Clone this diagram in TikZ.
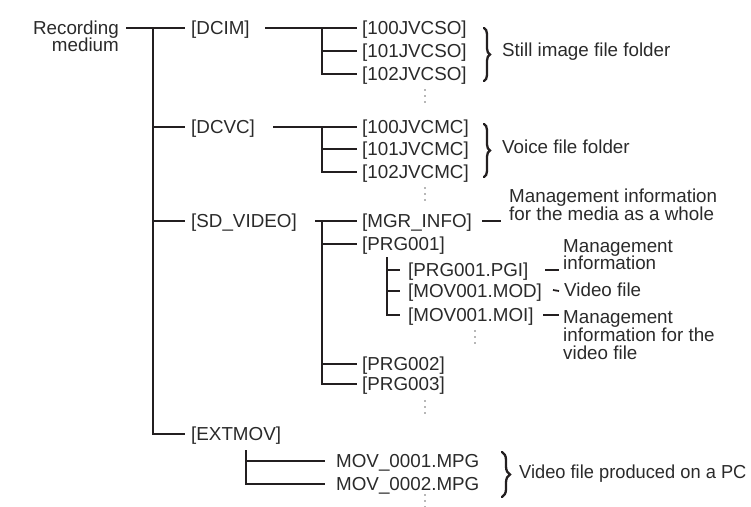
\documentclass[tikz,border=0pt]{standalone}
\usepackage{fontspec}
\usepackage{graphicx}
\setmainfont{Liberation Sans}
\usetikzlibrary{decorations.pathreplacing}
\definecolor{ink}{RGB}{35,31,32}
\definecolor{txt}{RGB}{42,42,42}
\definecolor{dotc}{RGB}{110,110,110}
\begin{document}
\begin{tikzpicture}[x=1pt,y=-1pt,
  lbl/.style={anchor=west,inner sep=0pt,text height=13.4pt,text depth=0pt,
    font=\fontsize{18.8}{18}\selectfont,text=txt},
  rlbl/.style={lbl,anchor=east},
  ln/.style={draw=ink,line width=1.8pt},
  br/.style={draw=ink,line width=2.3pt,line cap=round,decorate,decoration={brace,amplitude=#1}},
  br/.default=6pt]
\useasboundingbox (0,0) rectangle (751,506);

% ---- labels ----
\node[rlbl] (rec1) at (119,28) {Recording};
\node[rlbl] (rec2) at (119,45) {medium};

\node[lbl] (dcim) at (191,28) {[DCIM]};
\node[lbl] (dcvc) at (191,127) {[DCVC]};
\node[lbl] (sdv)  at (191,221) {[SD\_VIDEO]};
\node[lbl] (ext)  at (191,434) {[EXTMOV]};

\node[lbl] (so1) at (362,28) {[100JVCSO]};
\node[lbl] (so2) at (362,51) {[101JVCSO]};
\node[lbl] (so3) at (362,74) {[102JVCSO]};
\node[lbl] (sol) at (502,50) {Still image file folder};

\node[lbl] (mc1) at (362,127) {[100JVCMC]};
\node[lbl] (mc2) at (362,149) {[101JVCMC]};
\node[lbl] (mc3) at (362,172) {[102JVCMC]};
\node[lbl] (mcl) at (502,147) {Voice file folder};

\node[lbl] (mgr)  at (362,221) {[MGR\_INFO]};
\node[lbl] (prg1) at (362,244) {[PRG001]};
\node[lbl] (prg2) at (362,364) {[PRG002]};
\node[lbl] (prg3) at (362,384) {[PRG003]};
\node[lbl] (mgrA) at (509,196) {Management information};
\node[lbl] (mgrB) at (509,214) {for the media as a whole};

\node[lbl] (pgi) at (408,270) {[PRG001.PGI]};
\node[lbl] (mod) at (408,291) {[MOV001.MOD]};
\node[lbl] (moi) at (408,315) {[MOV001.MOI]};
\node[lbl] (pgiA) at (563,246) {Management};
\node[lbl] (pgiB) at (563,263) {information};
\node[lbl] (modA) at (564,290) {Video file};
\node[lbl] (moiA) at (563,317) {Management};
\node[lbl] (moiB) at (563,335) {information for the};
\node[lbl] (moiC) at (563,353) {video file};

\node[lbl] (mpg1) at (336,461) {MOV\_0001.MPG};
\node[lbl] (mpg2) at (336,484) {MOV\_0002.MPG};
\node[lbl] (mpgl) at (519,472) {\scalebox{0.972}[1]{Video file produced on a PC}};

% ---- main tree ----
\coordinate (mtop) at (153,28);
\draw[ln] ([xshift=7pt]rec1.east) -- ([xshift=-6pt]dcim.west);
\draw[ln] (mtop) |- ([xshift=-6pt]ext.west);
\draw[ln] (mtop |- dcvc.west) -- ([xshift=-6pt]dcvc.west);
\draw[ln] (mtop |- sdv.west) -- ([xshift=-6pt]sdv.west);

% ---- DCIM ----
\coordinate (v1) at (322,28);
\draw[ln] (265,28) -- ([xshift=-5pt]so1.west);
\draw[ln] (v1) |- ([xshift=-5pt]so3.west);
\draw[ln] (v1 |- so2.west) -- ([xshift=-5pt]so2.west);
\draw[br=6pt] (484,28) -- (484,81);

% ---- DCVC ----
\coordinate (v2) at (322,127);
\draw[ln] (273,127) -- ([xshift=-5pt]mc1.west);
\draw[ln] (v2) |- ([xshift=-5pt]mc3.west);
\draw[ln] (v2 |- mc2.west) -- ([xshift=-5pt]mc2.west);
\draw[br=6pt] (484,124) -- (484,177);

% ---- SD_VIDEO ----
\coordinate (v3) at (322,221);
\draw[ln] (315,221) -- ([xshift=-5pt]mgr.west);
\draw[ln] (v3) |- ([xshift=-5pt]prg3.west);
\draw[ln] (v3 |- prg1.west) -- ([xshift=-5pt]prg1.west);
\draw[ln] (v3 |- prg2.west) -- ([xshift=-5pt]prg2.west);
\draw[ln] (482,221) -- ([xshift=-8pt]mgr.west -| mgrA.west);

% ---- PRG001 ----
\coordinate (v4) at (387,257);
\draw[ln] (v4) |- ([xshift=-8pt]moi.west);
\draw[ln] (v4 |- pgi.west) -- ([xshift=-8pt]pgi.west);
\draw[ln] (v4 |- mod.west) -- ([xshift=-8pt]mod.west);
\draw[ln] (545,270) -- ([xshift=-4pt]pgi.west -| pgiA.west);
\draw[ln] (553,290) -- ([xshift=-5pt]mod.west -| modA.west);
\draw[ln] (543,315) -- ([xshift=-4pt]moi.west -| moiA.west);

% ---- EXTMOV ----
\coordinate (v5) at (246,450);
\draw[ln] (v5) |- ([xshift=-11pt]mpg2.west);
\draw[ln] (v5 |- mpg1.west) -- ([xshift=-11pt]mpg1.west);
\draw[br=8pt] (502,452) -- (502,497);

% ---- continuation dots ----
\foreach \px/\py in {425/96, 425/194, 475/337, 425/407, 425/501}{
  \fill[dotc] (\px,\py-6) circle (0.9pt) (\px,\py) circle (0.9pt) (\px,\py+6) circle (0.9pt);
}
\end{tikzpicture}
\end{document}
